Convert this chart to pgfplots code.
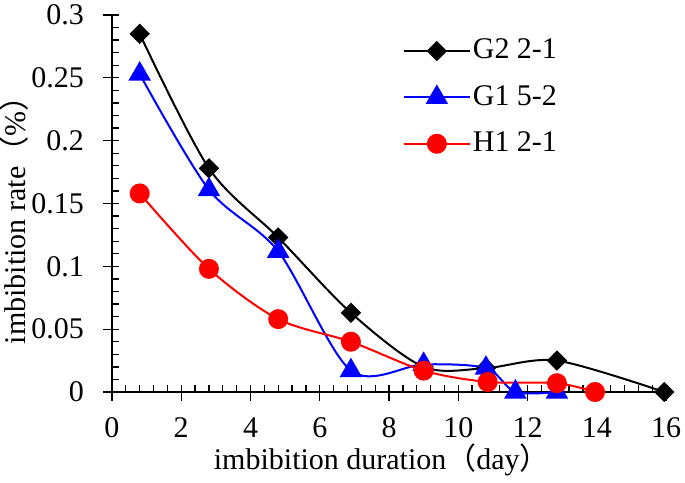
\documentclass[border=0pt]{standalone}
\usepackage{pgfplots}
\pgfplotsset{compat=1.18}
\usepackage{fontspec}
\setmainfont{Liberation Serif}
\newfontfamily\cjk{Noto Sans CJK SC}
\begin{document}
\fontsize{30}{34}\selectfont
\begin{tikzpicture}
\begin{axis}[
  scale only axis,
  width=554pt, height=377pt,
  xmin=0, xmax=16, ymin=0, ymax=0.3,
  axis x line=bottom, axis y line=left,
  axis line style={-, line width=1.3pt},
  x axis line style={shorten <=-9pt},
  xtick={0,2,...,16},
  ytick={0,0.05,0.1,0.15,0.2,0.25,0.3},
  yticklabels={0,0.05,0.1,0.15,0.2,0.25,0.3},
  minor x tick num=4, minor y tick num=4,
  tick align=inside,
  major tick length=16pt, minor tick length=7pt,
  every tick/.style={black, line width=1.3pt},
  every major x tick/.style={yshift=-9pt},
  every major y tick/.style={xshift=-9pt},
  /pgf/number format/assume math mode=true,
  tick label style={font=\fontsize{30}{34}\selectfont},
  xticklabel style={yshift=-15pt, text height=20pt, text depth=0pt},
  yticklabel style={xshift=-18pt},
  xlabel={imbibition duration{\cjk （}day{\cjk ）}},
  ylabel={imbibition rate{\cjk （}\%{\cjk ）}},
  label style={font=\fontsize{30}{34}\selectfont},
  xlabel style={at={(rel axis cs:0.487,0)}, anchor=base, yshift=-77pt, text height=20pt, text depth=6pt, inner sep=0pt},
  ylabel style={at={(rel axis cs:-0.157,0.475)}, anchor=base, text height=21pt, text depth=4pt, inner sep=0pt},
  legend style={draw=none, fill=none, at={(0.525,0.942)}, anchor=north west,
    font=\fontsize{30}{34}\selectfont, row sep=18pt, inner sep=0pt, outer sep=0pt},
  legend cell align=left,
  legend image code/.code={\draw[mark repeat=2,mark phase=2,#1] plot coordinates {(0pt,0pt) (33pt,0pt) (66pt,0pt)};},
  clip=false,
]
\addplot[black, line width=2pt, smooth, mark=square*, mark size=6.2pt, mark options={rotate=45, fill=black}]
coordinates {(0.8,0.285) (2.8,0.178) (4.8,0.123) (6.9,0.063) (9.0,0.020) (10.8,0.019) (12.85,0.025) (15.95,0)};
\addlegendentry{G2 2-1}
\addplot[blue, line width=2pt, smooth, mark=triangle*, mark size=11pt, mark options={fill=blue}]
coordinates {(0.8,0.253) (2.8,0.161) (4.8,0.112) (6.9,0.017) (9.0,0.022) (10.8,0.019) (11.65,0) (12.85,0)};
\addlegendentry{G1 5-2}
\addplot[red, line width=2pt, smooth, mark=*, mark size=9pt, mark options={fill=red}]
coordinates {(0.8,0.158) (2.8,0.098) (4.8,0.058) (6.9,0.040) (9.0,0.017) (10.85,0.008) (12.85,0.007) (13.95,0)};
\addlegendentry{H1 2-1}
\coordinate (o) at (rel axis cs:0,0);
\end{axis}
\pgfresetboundingbox
\useasboundingbox (o) ++(-112pt,-90pt) rectangle ++(685pt,482pt);
\end{tikzpicture}
\end{document}
